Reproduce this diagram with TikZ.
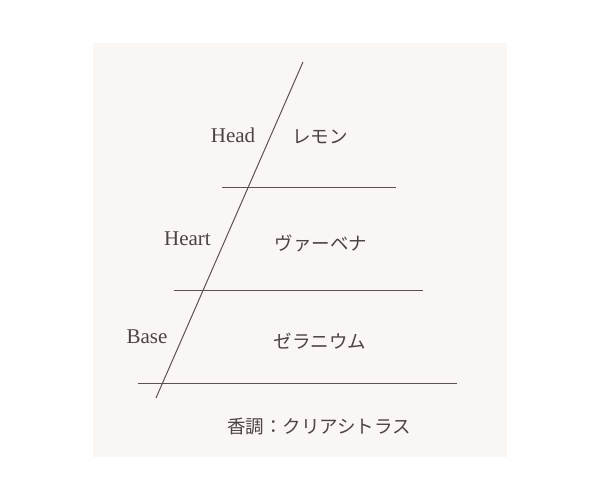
\documentclass[tikz,border=0pt]{standalone}
\usepackage{fontspec}
\setmainfont{Liberation Serif}
\newfontfamily\jpfont{Noto Sans CJK JP}
\definecolor{bgc}{RGB}{249,246,243}
\definecolor{txc}{RGB}{74,68,68}
\definecolor{lnc}{RGB}{92,82,82}
\begin{document}
\begin{tikzpicture}[x=1pt,y=1pt,
  rule/.style={draw=lnc,line width=1pt},
  entxt/.style={text=txc,font=\fontsize{21}{24}\selectfont,inner sep=0pt,anchor=base},
  jptxt/.style={text=txc,font=\jpfont\fontsize{18.5}{22}\selectfont,inner sep=0pt}]
\useasboundingbox (0,0) rectangle (600,494);
\fill[bgc] (93,37) rectangle (507,451);
\coordinate (dtop) at (303,432);
\coordinate (dbot) at (156,96);
\coordinate (l1a) at (222,306); \coordinate (l1b) at (396,306);
\coordinate (l2a) at (174,203); \coordinate (l2b) at (423,203);
\coordinate (l3a) at (138,110); \coordinate (l3b) at (457,110);
\draw[rule] (dtop) -- (dbot);
\draw[rule] (l1a) -- (l1b);
\draw[rule] (l2a) -- (l2b);
\draw[rule] (l3a) -- (l3b);
\node[entxt] (head) at (233,351) {Head};
\node[entxt] (heart) at (187.5,248) {Heart};
\node[entxt] (base) at (147,150) {Base};
\node[jptxt] (lemon) at (320,357) {レモン};
\node[jptxt] (verbena) at (321,251) {ヴァーベナ};
\node[jptxt] (geranium) at (320,153) {ゼラニウム};
\node[jptxt] (tone) at (319,67) {香調：クリアシトラス};
\end{tikzpicture}
\end{document}
